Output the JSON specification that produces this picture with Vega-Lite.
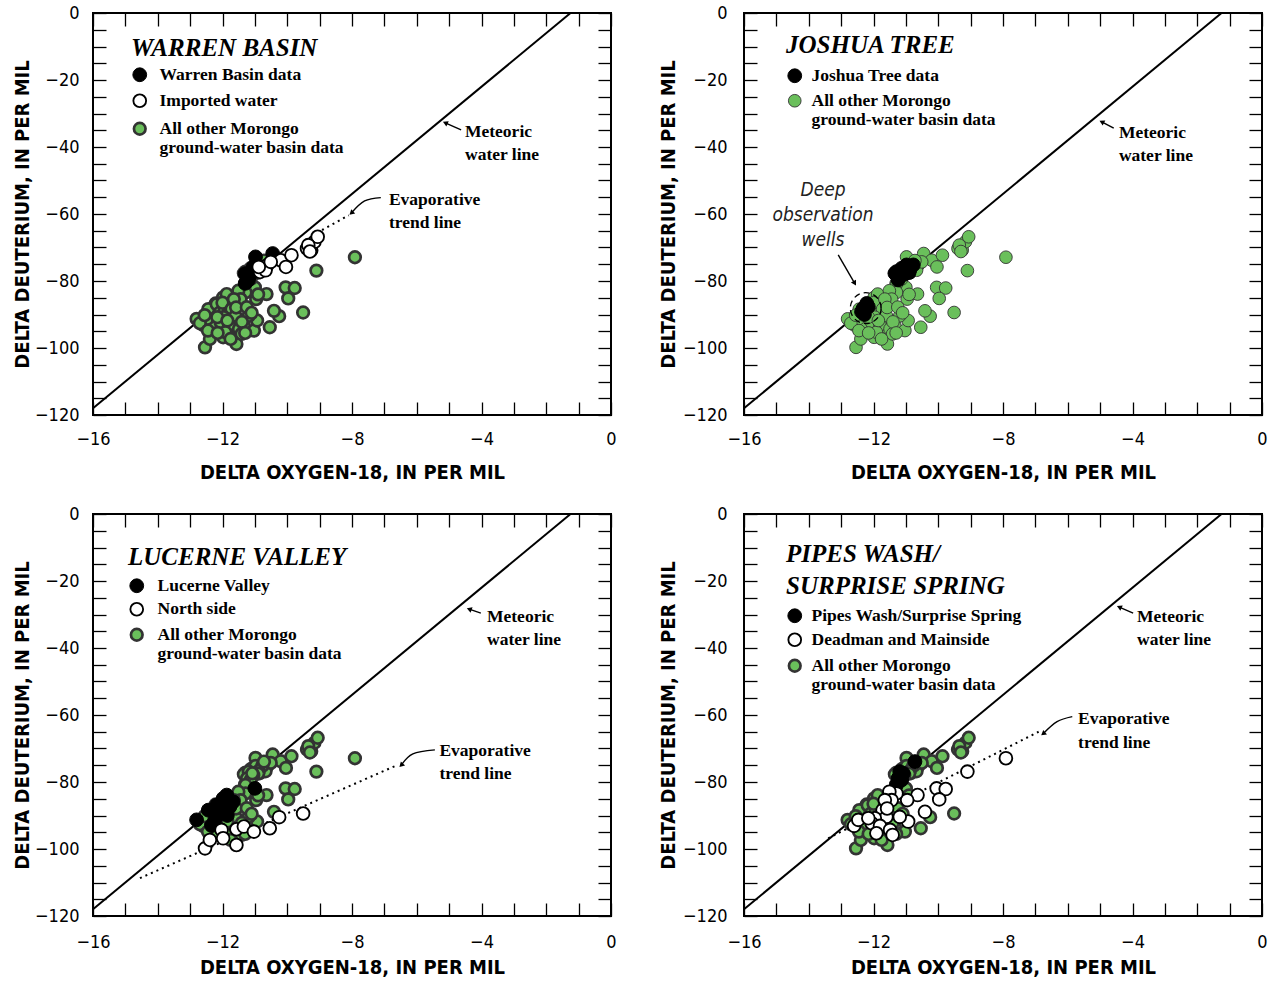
{
"$schema": "https://vega.github.io/schema/vega-lite/v6.json",
"background": "white",
"padding": {"left": 11, "top": 3, "right": 2, "bottom": 2},
"columns": 2,
"spacing": {"row": 99, "column": 133},
"bounds": "flush",
"datasets": {
"pts": [
{"o":-11.30,"d":-77.8,"g":"W"},{"o":-11.20,"d":-79.7,"g":"W"},{"o":-11.30,"d":-80.7,"g":"W"},{"o":-10.98,"d":-72.8,"g":"W"},{"o":-10.45,"d":-71.8,"g":"W"},{"o":-11.05,"d":-75.8,"g":"W"},{"o":-11.15,"d":-78.3,"g":"W"},
{"o":-10.62,"d":-75.3,"g":"I"},{"o":-10.84,"d":-77.3,"g":"I"},{"o":-10.67,"d":-76.8,"g":"I"},{"o":-10.20,"d":-73.8,"g":"I"},{"o":-9.87,"d":-72.3,"g":"I"},{"o":-10.04,"d":-75.8,"g":"I"},{"o":-9.39,"d":-70.3,"g":"I"},{"o":-9.26,"d":-70.8,"g":"I"},{"o":-9.16,"d":-68.3,"g":"I"},{"o":-9.06,"d":-66.8,"g":"I"},{"o":-9.35,"d":-69.3,"g":"I"},{"o":-10.51,"d":-74.3,"g":"I"},{"o":-10.88,"d":-75.8,"g":"I"},{"o":-9.30,"d":-71.2,"g":"I"},
{"o":-11.29,"d":-77.2,"g":"J"},{"o":-11.13,"d":-76.2,"g":"J"},{"o":-10.98,"d":-75.2,"g":"J"},{"o":-10.77,"d":-75.2,"g":"J"},{"o":-10.88,"d":-76.7,"g":"J"},{"o":-11.18,"d":-78.7,"g":"J"},{"o":-11.34,"d":-77.7,"g":"J"},{"o":-11.24,"d":-79.7,"g":"J"},{"o":-10.90,"d":-77.5,"g":"J"},{"o":-11.05,"d":-78.0,"g":"J"},{"o":-12.32,"d":-88.2,"g":"J"},{"o":-12.21,"d":-86.7,"g":"J"},{"o":-12.37,"d":-89.2,"g":"J"},{"o":-12.16,"d":-87.7,"g":"J"},{"o":-12.28,"d":-90.0,"g":"J"},
{"o":-12.80,"d":-91.3,"g":"L"},{"o":-12.44,"d":-88.4,"g":"L"},{"o":-12.18,"d":-86.9,"g":"L"},{"o":-11.98,"d":-84.9,"g":"L"},{"o":-11.87,"d":-83.9,"g":"L"},{"o":-12.08,"d":-89.4,"g":"L"},{"o":-11.77,"d":-87.4,"g":"L"},{"o":-12.24,"d":-91.3,"g":"L"},{"o":-11.67,"d":-85.9,"g":"L"},{"o":-11.00,"d":-81.9,"g":"L"},{"o":-12.34,"d":-93.0,"g":"L"},{"o":-11.93,"d":-88.4,"g":"L"},{"o":-12.00,"d":-86.5,"g":"L"},{"o":-11.85,"d":-90.0,"g":"L"},
{"o":-12.54,"d":-99.8,"g":"N"},{"o":-12.39,"d":-97.3,"g":"N"},{"o":-12.03,"d":-94.3,"g":"N"},{"o":-11.98,"d":-96.8,"g":"N"},{"o":-11.57,"d":-94.1,"g":"N"},{"o":-11.57,"d":-98.8,"g":"N"},{"o":-11.34,"d":-93.3,"g":"N"},{"o":-11.03,"d":-94.8,"g":"N"},{"o":-10.54,"d":-93.8,"g":"N"},{"o":-10.25,"d":-90.5,"g":"N"},{"o":-9.51,"d":-89.4,"g":"N"},
{"o":-10.72,"d":-73.9,"g":"P"},{"o":-11.19,"d":-76.9,"g":"P"},{"o":-11.24,"d":-78.9,"g":"P"},{"o":-11.13,"d":-79.4,"g":"P"},{"o":-11.29,"d":-80.9,"g":"P"},{"o":-11.08,"d":-77.4,"g":"P"},
{"o":-7.91,"d":-72.9,"g":"D"},{"o":-9.10,"d":-76.9,"g":"D"},{"o":-10.05,"d":-81.9,"g":"D"},{"o":-9.77,"d":-82.1,"g":"D"},{"o":-9.97,"d":-85.2,"g":"D"},{"o":-10.64,"d":-83.9,"g":"D"},{"o":-10.96,"d":-85.4,"g":"D"},{"o":-11.29,"d":-83.4,"g":"D"},{"o":-11.51,"d":-82.9,"g":"D"},{"o":-11.44,"d":-85.4,"g":"D"},{"o":-11.72,"d":-88.4,"g":"D"},{"o":-11.60,"d":-90.4,"g":"D"},{"o":-11.96,"d":-90.8,"g":"D"},{"o":-12.06,"d":-92.3,"g":"D"},{"o":-11.80,"d":-93.1,"g":"D"},{"o":-11.49,"d":-94.3,"g":"D"},{"o":-11.41,"d":-95.8,"g":"D"},{"o":-10.93,"d":-91.8,"g":"D"},{"o":-10.41,"d":-88.9,"g":"D"},{"o":-12.60,"d":-93.1,"g":"D"},{"o":-12.47,"d":-91.3,"g":"D"},{"o":-12.16,"d":-90.8,"g":"D"},{"o":-11.91,"d":-95.3,"g":"D"},{"o":-11.65,"d":-85.4,"g":"D"},{"o":-11.58,"d":-87.9,"g":"D"},{"o":-11.19,"d":-90.4,"g":"D"},
{"o":-10.90,"d":-84.0,"g":"O"},{"o":-11.40,"d":-92.2,"g":"O"},{"o":-11.30,"d":-95.5,"g":"O"},{"o":-11.75,"d":-97.3,"g":"O"},{"o":-12.70,"d":-92.6,"g":"O"},
{"o":-12.45,"d":-94.8,"g":"O"},{"o":-12.15,"d":-95.5,"g":"O"},{"o":-11.85,"d":-91.8,"g":"O"},{"o":-11.25,"d":-87.8,"g":"O"},{"o":-11.10,"d":-89.5,"g":"O"},{"o":-12.55,"d":-90.2,"g":"O"}
],
"roles": [
{"g":"W","wb":"k","jt":"g","lv":"g","pw":"g"},
{"g":"I","wb":"w","jt":"g","lv":"g","pw":"g"},
{"g":"J","wb":"g","jt":"k","lv":"g","pw":"g"},
{"g":"L","wb":"g","jt":"g","lv":"k","pw":"g"},
{"g":"N","wb":"g","jt":"g","lv":"w","pw":"g"},
{"g":"P","wb":"g","jt":"g","lv":"g","pw":"k"},
{"g":"D","wb":"g","jt":"g","lv":"g","pw":"w"},
{"g":"O","wb":"g","jt":"g","lv":"g","pw":"g"}
],
"mwl": [{"o":-16,"d":-118,"o2":-1.25,"d2":0}],
"evap": [
{"p":"wb","o":-9.25,"d":-66.5},{"p":"wb","o":-8.1,"d":-60.4},
{"p":"lv","o":-14.55,"d":-108.7},{"p":"lv","o":-6.59,"d":-74.9},
{"p":"pw","o":-13.4,"d":-96.8},{"p":"pw","o":-6.9,"d":-65.0}
],
"notes": [
{"p":"wb","k":"s","o":-4.51,"d":-37.0,"t":"Meteoric\nwater line"},
{"p":"wb","k":"s","o":-6.86,"d":-57.3,"t":"Evaporative\ntrend line"},
{"p":"jt","k":"s","o":-4.42,"d":-37.3,"t":"Meteoric\nwater line"},
{"p":"jt","k":"i","o":-13.56,"d":-54.5,"t":"Deep\nobservation\nwells"},
{"p":"lv","k":"s","o":-3.83,"d":-32.2,"t":"Meteoric\nwater line"},
{"p":"lv","k":"s","o":-5.3,"d":-72.2,"t":"Evaporative\ntrend line"},
{"p":"pw","k":"s","o":-3.86,"d":-32.2,"t":"Meteoric\nwater line"},
{"p":"pw","k":"s","o":-5.68,"d":-62.7,"t":"Evaporative\ntrend line"}
],
"arrows": [
{"p":"wb","id":"m","s":1,"o":-4.63,"d":-34.9},{"p":"wb","id":"m","s":2,"o":-5.12,"d":-32.8},
{"p":"wb","id":"e","s":1,"o":-7.11,"d":-55.1},{"p":"wb","id":"e","s":2,"o":-7.61,"d":-56.1},{"p":"wb","id":"e","s":3,"o":-8.02,"d":-59.7},
{"p":"jt","id":"m","s":1,"o":-4.58,"d":-34.4},{"p":"jt","id":"m","s":2,"o":-4.95,"d":-32.5},
{"p":"jt","id":"d","s":1,"o":-13.09,"d":-72.2},{"p":"jt","id":"d","s":2,"o":-12.58,"d":-80.7},
{"p":"lv","id":"m","s":1,"o":-4.02,"d":-29.6},{"p":"lv","id":"m","s":2,"o":-4.38,"d":-28.4},
{"p":"lv","id":"e","s":1,"o":-5.44,"d":-70.4},{"p":"lv","id":"e","s":2,"o":-6.12,"d":-71.6},{"p":"lv","id":"e","s":3,"o":-6.48,"d":-75.0},
{"p":"pw","id":"m","s":1,"o":-3.98,"d":-29.6},{"p":"pw","id":"m","s":2,"o":-4.41,"d":-27.8},
{"p":"pw","id":"e","s":1,"o":-5.86,"d":-60.5},{"p":"pw","id":"e","s":2,"o":-6.33,"d":-62.0},{"p":"pw","id":"e","s":3,"o":-6.76,"d":-65.6}
],
"heads": [
{"p":"wb","o":-5.12,"d":-32.8,"dir":294},
{"p":"wb","o":-8.02,"d":-59.7,"dir":227},
{"p":"jt","o":-4.95,"d":-32.5,"dir":297},
{"p":"jt","o":-12.58,"d":-80.7,"dir":150},
{"p":"lv","o":-4.38,"d":-28.4,"dir":290},
{"p":"lv","o":-6.48,"d":-75.0,"dir":224},
{"p":"pw","o":-4.41,"d":-27.8,"dir":294},
{"p":"pw","o":-6.76,"d":-65.6,"dir":231}
],
"ring": [{"p":"jt","o":-12.24,"d":-88.1}]
},
"concat": [
{
"width": 518, "height": 402,
"resolve": {"axis": {"x": "independent", "y": "independent"}},
"layer": [
{"data": {"name": "mwl"}, "mark": {"type": "rule", "color": "black", "strokeWidth": 2},
 "encoding": {
  "x": {"field": "o", "type": "quantitative", "scale": {"domain": [-16, 0], "nice": false, "zero": false},
        "axis": {"orient": "bottom", "values": [-16,-15,-14,-13,-12,-11,-10,-9,-8,-7,-6,-5,-4,-3,-2,-1,0], "labelExpr": "datum.value % 4 == 0 ? (datum.value == 0 ? '0' : '−' + abs(datum.value)) : ''", "title": "DELTA OXYGEN-18, IN PER MIL", "labelPadding": 28, "titlePadding": 14}},
  "y": {"field": "d", "type": "quantitative", "scale": {"domain": [-120, 0], "nice": false, "zero": false},
        "axis": {"orient": "left", "values": [-120,-115,-110,-105,-100,-95,-90,-85,-80,-75,-70,-65,-60,-55,-50,-45,-40,-35,-30,-25,-20,-15,-10,-5,0], "labelExpr": "datum.value % 20 == 0 ? (datum.value == 0 ? '0' : '−' + abs(datum.value)) : ''", "title": "DELTA DEUTERIUM, IN PER MIL", "labelPadding": 27, "titlePadding": 2}},
  "x2": {"field": "o2"}, "y2": {"field": "d2"}}},
{"data": {"name": "evap"}, "transform": [{"filter": "datum.p == 'wb'"}],
 "mark": {"type": "line", "color": "black", "strokeWidth": 2, "strokeDash": [2, 4]},
 "encoding": {"x": {"field": "o", "type": "quantitative", "axis": null}, "y": {"field": "d", "type": "quantitative", "axis": null}}},
{"data": {"name": "pts"}, "transform": [{"lookup": "g", "from": {"data": {"name": "roles"}, "key": "g", "fields": ["wb"]}}],
 "mark": {"type": "circle", "opacity": 1},
 "encoding": {
  "x": {"field": "o", "type": "quantitative", "axis": {"orient": "top", "values": [-16,-15,-14,-13,-12,-11,-10,-9,-8,-7,-6,-5,-4,-3,-2,-1,0], "labels": false, "title": null}},
  "y": {"field": "d", "type": "quantitative", "axis": {"orient": "right", "values": [-120,-115,-110,-105,-100,-95,-90,-85,-80,-75,-70,-65,-60,-55,-50,-45,-40,-35,-30,-25,-20,-15,-10,-5,0], "labels": false, "title": null}},
  "fill": {"field": "wb", "type": "nominal", "scale": {"domain": ["k","w","g"], "range": ["#000000","#ffffff","#6abf5b"]},
           "legend": {"title": "WARREN BASIN", "orient": "none", "legendX": 38, "legendY": 23, "labelOffset": 11, "rowPadding": 6,
                      "labelExpr": "datum.value == 'k' ? 'Warren Basin data' : datum.value == 'w' ? 'Imported water' : ['All other Morongo', 'ground-water basin data']"}},
  "stroke": {"field": "wb", "type": "nominal", "scale": {"domain": ["k","w","g"], "range": ["#000000","#000000","#333333"]}},
  "strokeWidth": {"field": "wb", "type": "ordinal", "scale": {"domain": ["k","w","g"], "range": [1, 2.7, 0.9]}},
  "size": {"field": "wb", "type": "ordinal", "scale": {"domain": ["k","w","g"], "range": [190, 135, 185]}},
  "order": {"field": "wb", "sort": "ascending"}}},
{"data": {"name": "arrows"}, "transform": [{"filter": "datum.p == 'wb'"}],
 "mark": {"type": "line", "color": "black", "strokeWidth": 1.4, "interpolate": "natural"},
 "encoding": {"x": {"field": "o", "type": "quantitative", "axis": null}, "y": {"field": "d", "type": "quantitative", "axis": null}, "detail": {"field": "id"}, "order": {"field": "s"}}},
{"data": {"name": "heads"}, "transform": [{"filter": "datum.p == 'wb'"}],
 "mark": {"type": "point", "shape": "triangle-up", "filled": true, "color": "black", "size": 34, "opacity": 1},
 "encoding": {"x": {"field": "o", "type": "quantitative", "axis": null}, "y": {"field": "d", "type": "quantitative", "axis": null}, "angle": {"field": "dir", "type": "quantitative", "scale": null}}},
{"data": {"name": "notes"}, "transform": [{"filter": "datum.p == 'wb'"}],
 "mark": {"type": "text", "align": "left", "baseline": "alphabetic", "font": "Liberation Serif", "fontWeight": "bold", "fontSize": 17.5, "lineBreak": "\n", "lineHeight": 23.5, "color": "black"},
 "encoding": {"x": {"field": "o", "type": "quantitative", "axis": null}, "y": {"field": "d", "type": "quantitative", "axis": null}, "text": {"field": "t"}}}
]
},
{
"width": 518, "height": 402,
"resolve": {"axis": {"x": "independent", "y": "independent"}},
"layer": [
{"data": {"name": "mwl"}, "mark": {"type": "rule", "color": "black", "strokeWidth": 2},
 "encoding": {
  "x": {"field": "o", "type": "quantitative", "scale": {"domain": [-16, 0], "nice": false, "zero": false},
        "axis": {"orient": "bottom", "values": [-16,-15,-14,-13,-12,-11,-10,-9,-8,-7,-6,-5,-4,-3,-2,-1,0], "labelExpr": "datum.value % 4 == 0 ? (datum.value == 0 ? '0' : '−' + abs(datum.value)) : ''", "title": "DELTA OXYGEN-18, IN PER MIL", "labelPadding": 28, "titlePadding": 14}},
  "y": {"field": "d", "type": "quantitative", "scale": {"domain": [-120, 0], "nice": false, "zero": false},
        "axis": {"orient": "left", "values": [-120,-115,-110,-105,-100,-95,-90,-85,-80,-75,-70,-65,-60,-55,-50,-45,-40,-35,-30,-25,-20,-15,-10,-5,0], "labelExpr": "datum.value % 20 == 0 ? (datum.value == 0 ? '0' : '−' + abs(datum.value)) : ''", "title": "DELTA DEUTERIUM, IN PER MIL", "labelPadding": 30, "titlePadding": 4}},
  "x2": {"field": "o2"}, "y2": {"field": "d2"}}},
{"data": {"name": "pts"}, "transform": [{"lookup": "g", "from": {"data": {"name": "roles"}, "key": "g", "fields": ["jt"]}}],
 "mark": {"type": "circle", "opacity": 1},
 "encoding": {
  "x": {"field": "o", "type": "quantitative", "axis": {"orient": "top", "values": [-16,-15,-14,-13,-12,-11,-10,-9,-8,-7,-6,-5,-4,-3,-2,-1,0], "labels": false, "title": null}},
  "y": {"field": "d", "type": "quantitative", "axis": {"orient": "right", "values": [-120,-115,-110,-105,-100,-95,-90,-85,-80,-75,-70,-65,-60,-55,-50,-45,-40,-35,-30,-25,-20,-15,-10,-5,0], "labels": false, "title": null}},
  "fill": {"field": "jt", "type": "nominal", "scale": {"domain": ["k","g"], "range": ["#000000","#6abf5b"]},
           "legend": {"title": "JOSHUA TREE", "orient": "none", "legendX": 42, "legendY": 20, "labelOffset": 8, "rowPadding": 6, "titlePadding": 9,
                      "labelExpr": "datum.value == 'k' ? 'Joshua Tree data' : ['All other Morongo', 'ground-water basin data']"}},
  "stroke": {"field": "jt", "type": "nominal", "scale": {"domain": ["k","g"], "range": ["#000000","#333333"]}},
  "strokeWidth": {"field": "jt", "type": "ordinal", "scale": {"domain": ["k","g"], "range": [1, 0.9]}},
  "size": {"field": "jt", "type": "ordinal", "scale": {"domain": ["k","g"], "range": [190, 160]}},
  "order": {"field": "jt", "sort": "ascending"}}},
{"data": {"name": "ring"},
 "mark": {"type": "point", "shape": "circle", "filled": false, "color": "black", "size": 950, "strokeWidth": 1.3, "strokeDash": [6, 4], "opacity": 1},
 "encoding": {"x": {"field": "o", "type": "quantitative", "axis": null}, "y": {"field": "d", "type": "quantitative", "axis": null}}},
{"data": {"name": "arrows"}, "transform": [{"filter": "datum.p == 'jt'"}],
 "mark": {"type": "line", "color": "black", "strokeWidth": 1.4, "interpolate": "natural"},
 "encoding": {"x": {"field": "o", "type": "quantitative", "axis": null}, "y": {"field": "d", "type": "quantitative", "axis": null}, "detail": {"field": "id"}, "order": {"field": "s"}}},
{"data": {"name": "heads"}, "transform": [{"filter": "datum.p == 'jt'"}],
 "mark": {"type": "point", "shape": "triangle-up", "filled": true, "color": "black", "size": 34, "opacity": 1},
 "encoding": {"x": {"field": "o", "type": "quantitative", "axis": null}, "y": {"field": "d", "type": "quantitative", "axis": null}, "angle": {"field": "dir", "type": "quantitative", "scale": null}}},
{"data": {"name": "notes"}, "transform": [{"filter": "datum.p == 'jt' && datum.k == 's'"}],
 "mark": {"type": "text", "align": "left", "baseline": "alphabetic", "font": "Liberation Serif", "fontWeight": "bold", "fontSize": 17.5, "lineBreak": "\n", "lineHeight": 23.5, "color": "black"},
 "encoding": {"x": {"field": "o", "type": "quantitative", "axis": null}, "y": {"field": "d", "type": "quantitative", "axis": null}, "text": {"field": "t"}}},
{"data": {"name": "notes"}, "transform": [{"filter": "datum.p == 'jt' && datum.k == 'i'"}],
 "mark": {"type": "text", "align": "center", "baseline": "alphabetic", "font": "DejaVu Sans Condensed, sans-serif", "fontStyle": "italic", "fontSize": 19, "lineBreak": "\n", "lineHeight": 25, "color": "#222222"},
 "encoding": {"x": {"field": "o", "type": "quantitative", "axis": null}, "y": {"field": "d", "type": "quantitative", "axis": null}, "text": {"field": "t"}}}
]
},
{
"width": 518, "height": 402,
"resolve": {"axis": {"x": "independent", "y": "independent"}},
"layer": [
{"data": {"name": "mwl"}, "mark": {"type": "rule", "color": "black", "strokeWidth": 2},
 "encoding": {
  "x": {"field": "o", "type": "quantitative", "scale": {"domain": [-16, 0], "nice": false, "zero": false},
        "axis": {"orient": "bottom", "values": [-16,-15,-14,-13,-12,-11,-10,-9,-8,-7,-6,-5,-4,-3,-2,-1,0], "labelExpr": "datum.value % 4 == 0 ? (datum.value == 0 ? '0' : '−' + abs(datum.value)) : ''", "title": "DELTA OXYGEN-18, IN PER MIL", "labelPadding": 30, "titlePadding": 6}},
  "y": {"field": "d", "type": "quantitative", "scale": {"domain": [-120, 0], "nice": false, "zero": false},
        "axis": {"orient": "left", "values": [-120,-115,-110,-105,-100,-95,-90,-85,-80,-75,-70,-65,-60,-55,-50,-45,-40,-35,-30,-25,-20,-15,-10,-5,0], "labelExpr": "datum.value % 20 == 0 ? (datum.value == 0 ? '0' : '−' + abs(datum.value)) : ''", "title": "DELTA DEUTERIUM, IN PER MIL", "labelPadding": 27, "titlePadding": 2}},
  "x2": {"field": "o2"}, "y2": {"field": "d2"}}},
{"data": {"name": "evap"}, "transform": [{"filter": "datum.p == 'lv'"}],
 "mark": {"type": "line", "color": "black", "strokeWidth": 2, "strokeDash": [2, 4]},
 "encoding": {"x": {"field": "o", "type": "quantitative", "axis": null}, "y": {"field": "d", "type": "quantitative", "axis": null}}},
{"data": {"name": "pts"}, "transform": [{"lookup": "g", "from": {"data": {"name": "roles"}, "key": "g", "fields": ["lv"]}}],
 "mark": {"type": "circle", "opacity": 1},
 "encoding": {
  "x": {"field": "o", "type": "quantitative", "axis": {"orient": "top", "values": [-16,-15,-14,-13,-12,-11,-10,-9,-8,-7,-6,-5,-4,-3,-2,-1,0], "labels": false, "title": null}},
  "y": {"field": "d", "type": "quantitative", "axis": {"orient": "right", "values": [-120,-115,-110,-105,-100,-95,-90,-85,-80,-75,-70,-65,-60,-55,-50,-45,-40,-35,-30,-25,-20,-15,-10,-5,0], "labels": false, "title": null}},
  "fill": {"field": "lv", "type": "nominal", "scale": {"domain": ["k","w","g"], "range": ["#000000","#ffffff","#6abf5b"]},
           "legend": {"title": "LUCERNE VALLEY", "orient": "none", "legendX": 35, "legendY": 31, "labelOffset": 12, "rowPadding": 3.5, "titlePadding": 7,
                      "labelExpr": "datum.value == 'k' ? 'Lucerne Valley' : datum.value == 'w' ? 'North side' : ['All other Morongo', 'ground-water basin data']"}},
  "stroke": {"field": "lv", "type": "nominal", "scale": {"domain": ["k","w","g"], "range": ["#000000","#000000","#333333"]}},
  "strokeWidth": {"field": "lv", "type": "ordinal", "scale": {"domain": ["k","w","g"], "range": [1, 2.7, 0.9]}},
  "size": {"field": "lv", "type": "ordinal", "scale": {"domain": ["k","w","g"], "range": [190, 135, 185]}},
  "order": {"field": "lv", "sort": "ascending"}}},
{"data": {"name": "arrows"}, "transform": [{"filter": "datum.p == 'lv'"}],
 "mark": {"type": "line", "color": "black", "strokeWidth": 1.4, "interpolate": "natural"},
 "encoding": {"x": {"field": "o", "type": "quantitative", "axis": null}, "y": {"field": "d", "type": "quantitative", "axis": null}, "detail": {"field": "id"}, "order": {"field": "s"}}},
{"data": {"name": "heads"}, "transform": [{"filter": "datum.p == 'lv'"}],
 "mark": {"type": "point", "shape": "triangle-up", "filled": true, "color": "black", "size": 34, "opacity": 1},
 "encoding": {"x": {"field": "o", "type": "quantitative", "axis": null}, "y": {"field": "d", "type": "quantitative", "axis": null}, "angle": {"field": "dir", "type": "quantitative", "scale": null}}},
{"data": {"name": "notes"}, "transform": [{"filter": "datum.p == 'lv'"}],
 "mark": {"type": "text", "align": "left", "baseline": "alphabetic", "font": "Liberation Serif", "fontWeight": "bold", "fontSize": 17.5, "lineBreak": "\n", "lineHeight": 23.5, "color": "black"},
 "encoding": {"x": {"field": "o", "type": "quantitative", "axis": null}, "y": {"field": "d", "type": "quantitative", "axis": null}, "text": {"field": "t"}}}
]
},
{
"width": 518, "height": 402,
"resolve": {"axis": {"x": "independent", "y": "independent"}},
"layer": [
{"data": {"name": "mwl"}, "mark": {"type": "rule", "color": "black", "strokeWidth": 2},
 "encoding": {
  "x": {"field": "o", "type": "quantitative", "scale": {"domain": [-16, 0], "nice": false, "zero": false},
        "axis": {"orient": "bottom", "values": [-16,-15,-14,-13,-12,-11,-10,-9,-8,-7,-6,-5,-4,-3,-2,-1,0], "labelExpr": "datum.value % 4 == 0 ? (datum.value == 0 ? '0' : '−' + abs(datum.value)) : ''", "title": "DELTA OXYGEN-18, IN PER MIL", "labelPadding": 30, "titlePadding": 6}},
  "y": {"field": "d", "type": "quantitative", "scale": {"domain": [-120, 0], "nice": false, "zero": false},
        "axis": {"orient": "left", "values": [-120,-115,-110,-105,-100,-95,-90,-85,-80,-75,-70,-65,-60,-55,-50,-45,-40,-35,-30,-25,-20,-15,-10,-5,0], "labelExpr": "datum.value % 20 == 0 ? (datum.value == 0 ? '0' : '−' + abs(datum.value)) : ''", "title": "DELTA DEUTERIUM, IN PER MIL", "labelPadding": 30, "titlePadding": 4}},
  "x2": {"field": "o2"}, "y2": {"field": "d2"}}},
{"data": {"name": "evap"}, "transform": [{"filter": "datum.p == 'pw'"}],
 "mark": {"type": "line", "color": "black", "strokeWidth": 2, "strokeDash": [2, 4]},
 "encoding": {"x": {"field": "o", "type": "quantitative", "axis": null}, "y": {"field": "d", "type": "quantitative", "axis": null}}},
{"data": {"name": "pts"}, "transform": [{"lookup": "g", "from": {"data": {"name": "roles"}, "key": "g", "fields": ["pw"]}}],
 "mark": {"type": "circle", "opacity": 1},
 "encoding": {
  "x": {"field": "o", "type": "quantitative", "axis": {"orient": "top", "values": [-16,-15,-14,-13,-12,-11,-10,-9,-8,-7,-6,-5,-4,-3,-2,-1,0], "labels": false, "title": null}},
  "y": {"field": "d", "type": "quantitative", "axis": {"orient": "right", "values": [-120,-115,-110,-105,-100,-95,-90,-85,-80,-75,-70,-65,-60,-55,-50,-45,-40,-35,-30,-25,-20,-15,-10,-5,0], "labels": false, "title": null}},
  "fill": {"field": "pw", "type": "nominal", "scale": {"domain": ["k","w","g"], "range": ["#000000","#ffffff","#6abf5b"]},
           "legend": {"title": ["PIPES WASH/", "SURPRISE SPRING"], "titleLineHeight": 32, "orient": "none", "legendX": 42, "legendY": 28, "labelOffset": 8, "rowPadding": 4, "titlePadding": 8,
                      "labelExpr": "datum.value == 'k' ? 'Pipes Wash/Surprise Spring' : datum.value == 'w' ? 'Deadman and Mainside' : ['All other Morongo', 'ground-water basin data']"}},
  "stroke": {"field": "pw", "type": "nominal", "scale": {"domain": ["k","w","g"], "range": ["#000000","#000000","#333333"]}},
  "strokeWidth": {"field": "pw", "type": "ordinal", "scale": {"domain": ["k","w","g"], "range": [1, 2.7, 0.9]}},
  "size": {"field": "pw", "type": "ordinal", "scale": {"domain": ["k","w","g"], "range": [190, 135, 185]}},
  "order": {"field": "pw", "sort": "ascending"}}},
{"data": {"name": "arrows"}, "transform": [{"filter": "datum.p == 'pw'"}],
 "mark": {"type": "line", "color": "black", "strokeWidth": 1.4, "interpolate": "natural"},
 "encoding": {"x": {"field": "o", "type": "quantitative", "axis": null}, "y": {"field": "d", "type": "quantitative", "axis": null}, "detail": {"field": "id"}, "order": {"field": "s"}}},
{"data": {"name": "heads"}, "transform": [{"filter": "datum.p == 'pw'"}],
 "mark": {"type": "point", "shape": "triangle-up", "filled": true, "color": "black", "size": 34, "opacity": 1},
 "encoding": {"x": {"field": "o", "type": "quantitative", "axis": null}, "y": {"field": "d", "type": "quantitative", "axis": null}, "angle": {"field": "dir", "type": "quantitative", "scale": null}}},
{"data": {"name": "notes"}, "transform": [{"filter": "datum.p == 'pw'"}],
 "mark": {"type": "text", "align": "left", "baseline": "alphabetic", "font": "Liberation Serif", "fontWeight": "bold", "fontSize": 17.5, "lineBreak": "\n", "lineHeight": 23.5, "color": "black"},
 "encoding": {"x": {"field": "o", "type": "quantitative", "axis": null}, "y": {"field": "d", "type": "quantitative", "axis": null}, "text": {"field": "t"}}}
]
}
],
"resolve": {
 "scale": {"fill": "independent", "stroke": "independent", "strokeWidth": "independent", "size": "independent"},
 "legend": {"fill": "independent", "stroke": "independent", "strokeWidth": "independent", "size": "independent"}
},
"config": {
 "view": {"stroke": "black", "strokeWidth": 2},
 "axis": {"domain": false, "grid": false, "ticks": true, "tickSize": -13, "tickColor": "black", "tickWidth": 1.3,
          "labelFont": "DejaVu Sans Condensed, sans-serif", "labelFontSize": 18, "labelColor": "black",
          "labelOverlap": false, "labelFlush": false, "labelBound": false,
          "titleFont": "DejaVu Sans Condensed, sans-serif", "titleFontSize": 20, "titleFontWeight": "bold", "titleColor": "black"},
 "legend": {"labelFont": "Liberation Serif", "labelFontWeight": "bold", "labelFontSize": 17.5, "labelColor": "black", "labelLimit": 600,
            "titleFont": "Liberation Serif", "titleFontStyle": "italic", "titleFontWeight": "bold", "titleFontSize": 25, "titleColor": "black",
            "titlePadding": 5, "padding": 0, "symbolType": "circle", "titleLimit": 600}
}
}
